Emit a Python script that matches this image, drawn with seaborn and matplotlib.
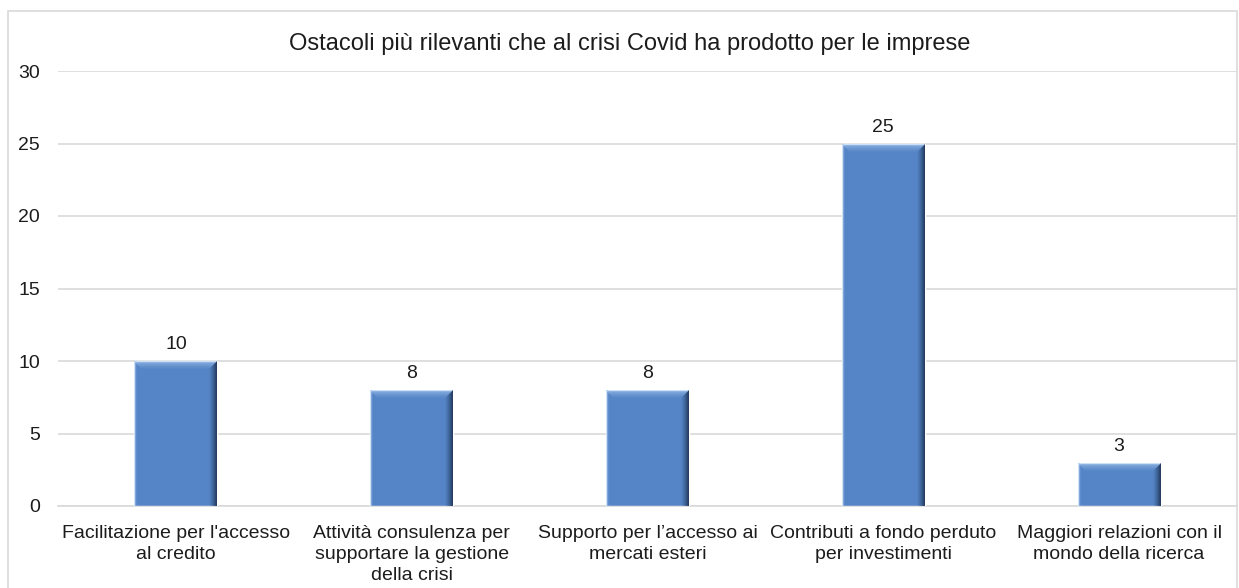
import matplotlib
matplotlib.use("Agg")
import matplotlib.pyplot as plt
import matplotlib.patches as mpatches
from matplotlib.transforms import IdentityTransform
import seaborn as sns
import pandas as pd

categories = [
    "Facilitazione per l'accesso\nal credito",
    "Attività consulenza per\nsupportare la gestione\ndella crisi",
    "Supporto per l\u2019accesso ai\nmercati esteri",
    "Contributi a fondo perduto\nper investimenti",
    "Maggiori relazioni con il\nmondo della ricerca",
]
values = [10, 8, 8, 25, 3]
y_ticks = [0, 5, 10, 15, 20, 25, 30]
title = "Ostacoli più rilevanti che al crisi Covid ha prodotto per le imprese"

sns.set_theme(style="white")
plt.rcParams["font.family"] = ["Liberation Sans", "DejaVu Sans"]

TEXT = "#1c1c1c"
W, H = 1239, 588
fig = plt.figure(figsize=(W / 100, H / 100), dpi=100)
ax = fig.add_axes([58 / W, (H - 506) / H, (1237 - 58) / W, (506 - 71) / H])

df = pd.DataFrame({"cat": categories, "val": values})
sns.barplot(data=df, x="cat", y="val", color="#5585C6", width=0.352,
            saturation=1, ax=ax, zorder=3)

ax.set_ylim(0, 30)
ax.set_yticks(y_ticks)
ax.set_xlim(-0.5, len(categories) - 0.5)
ax.yaxis.grid(True, color="#D9D9D9", linewidth=1.2, zorder=0)
ax.set_axisbelow(True)
for s in ["top", "right", "left"]:
    ax.spines[s].set_visible(False)
ax.spines["bottom"].set_color("#D9D9D9")
ax.spines["bottom"].set_linewidth(1.2)
ax.set_xlabel("")
ax.set_ylabel("")
ax.tick_params(axis="y", length=0, pad=13, labelsize=14, labelcolor=TEXT)
ax.tick_params(axis="x", length=0, pad=13.5, labelsize=14, labelcolor=TEXT)
for lbl in ax.get_xticklabels():
    lbl.set_horizontalalignment("center")
    lbl.set_multialignment("center")
    lbl.set_linespacing(1.32)

# Bevelled look on each bar, drawn in pixel space
fig.canvas.draw()
for patch, v in zip(ax.patches, values):
    x0, y0 = patch.get_x(), patch.get_y()
    w, h = patch.get_width(), patch.get_height()
    (px0, py0) = ax.transData.transform((x0, y0))
    (px1, py1) = ax.transData.transform((x0 + w, y0 + h))
    n = 8
    # darker right edge
    for i in range(n):
        a = 0.85 * (1 - i / n) ** 1.4
        ax.add_patch(mpatches.Rectangle((px1 - i - 1, py0), 1, py1 - py0 - i,
                                        transform=IdentityTransform(),
                                        facecolor="#1A2F50", alpha=a,
                                        edgecolor="none", zorder=4))
    # lighter top edge
    for i in range(n):
        a = 0.6 * (1 - i / n) ** 1.2
        ax.add_patch(mpatches.Rectangle((px0 + i, py1 - i - 1), px1 - px0 - 2 * i, 1,
                                        transform=IdentityTransform(),
                                        facecolor="#A9CBF2", alpha=a,
                                        edgecolor="none", zorder=4))
    # thin light left edge
    for i in range(3):
        a = 0.45 * (1 - i / 3)
        ax.add_patch(mpatches.Rectangle((px0 + i, py0), 1, py1 - py0,
                                        transform=IdentityTransform(),
                                        facecolor="#9CC0EC", alpha=a,
                                        edgecolor="none", zorder=4))
    # value label
    ax.text(patch.get_x() + w / 2, v + 0.55, f"{v}", ha="center", va="bottom",
            fontsize=14, color=TEXT, zorder=5)

# chart title inside the frame
fig.text(630 / W, (H - 44) / H, title, ha="center", va="center",
         fontsize=17, color=TEXT)

# chart frame
fig.patches.append(mpatches.Rectangle((8 / W, -0.02), (1237 - 8) / W, (H - 11) / H + 0.02,
                                      transform=fig.transFigure, fill=False,
                                      edgecolor="#D9D9D9", linewidth=1.2))

fig.savefig("out.png", dpi=100)
